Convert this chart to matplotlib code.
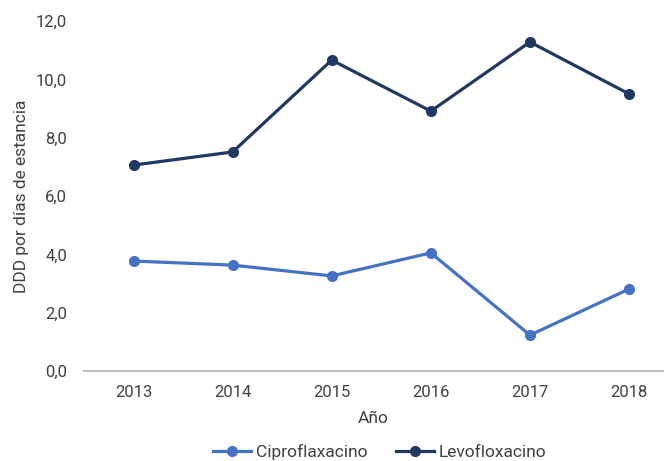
import matplotlib
matplotlib.use("Agg")
import matplotlib.pyplot as plt
from matplotlib.ticker import FuncFormatter

plt.rcParams['font.family'] = ['Liberation Sans Narrow', 'Roboto', 'DejaVu Sans']

# ── datos ─────────────────────────────────────────
years = ["2013", "2014", "2015", "2016", "2017", "2018"]
cipro = [3.77, 3.63, 3.26, 4.05, 1.23, 2.81]
levo  = [7.06, 7.51, 10.66, 8.91, 11.28, 9.50]

C_CIPRO = "#4472C4"
C_LEVO  = "#203864"

fig = plt.figure(figsize=(6.64, 4.61), dpi=100)
ax = fig.add_axes([84/664, 1 - 371/461, (663-84)/664, (371-21)/461])

x = range(len(years))
ax.plot(x, cipro, color=C_CIPRO, lw=2.3, marker="o", ms=7, label="Ciproflaxacino")
ax.plot(x, levo,  color=C_LEVO,  lw=2.3, marker="o", ms=7, label="Levofloxacino")

ax.set_xlim(-0.5, 5 + (663-629)/99.2)
ax.set_ylim(0, 12)
ax.set_yticks([0, 2, 4, 6, 8, 10, 12])
ax.yaxis.set_major_formatter(FuncFormatter(lambda v, p: f"{v:.1f}".replace(".", ",")))
ax.set_xticks(list(x))
ax.set_xticklabels(years)

for s in ["top", "right", "left"]:
    ax.spines[s].set_visible(False)
ax.spines["bottom"].set_color("#BFBFBF")
ax.spines["bottom"].set_linewidth(1.5)
ax.tick_params(axis="both", length=0, labelsize=12, colors="#404040", pad=10)
ax.tick_params(axis="y", pad=12)

ax.set_xlabel("Año", fontsize=12.5, color="#404040", labelpad=8)
ax.set_ylabel("DDD por días de estancia", fontsize=12.5, color="#404040", labelpad=5)

leg = fig.legend(loc="center", bbox_to_anchor=(0.572, 1 - 452/461), ncol=2, frameon=False,
                 fontsize=12.5, handlelength=2.2, columnspacing=1.6, handletextpad=0.3)
for t in leg.get_texts():
    t.set_color("#404040")

plt.savefig("out.png", dpi=100, facecolor="white")
